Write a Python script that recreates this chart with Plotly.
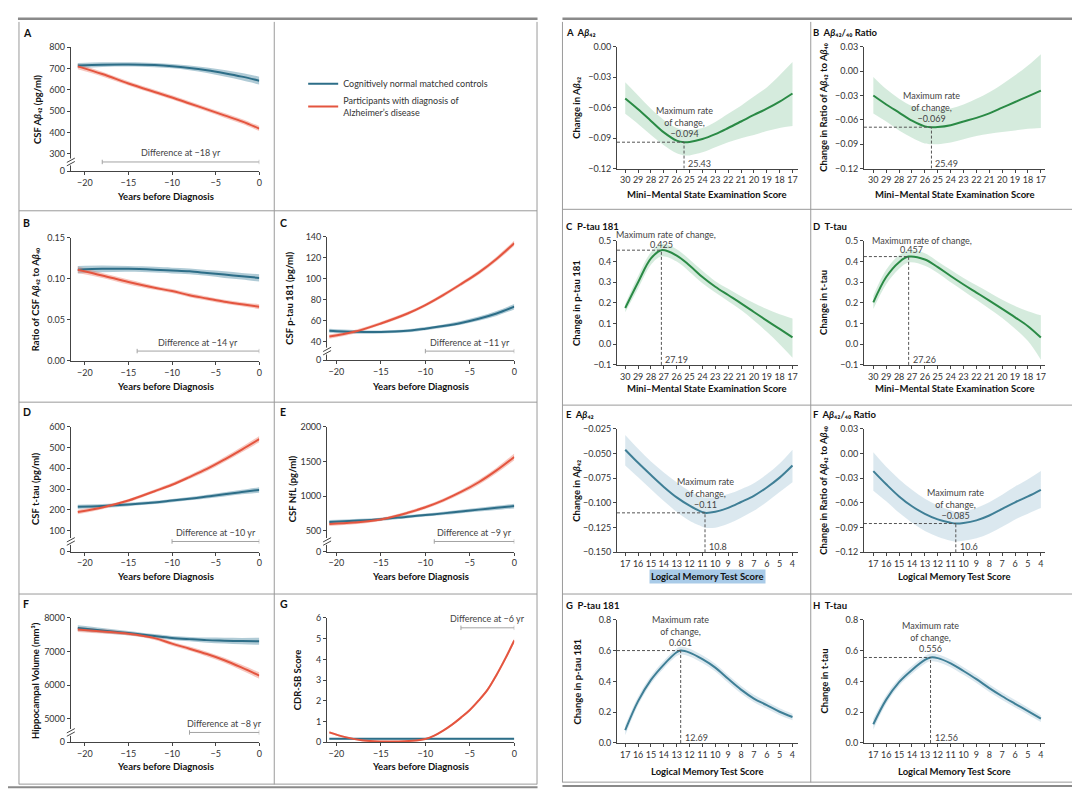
import plotly.graph_objects as go

W, H = 1080, 811
FONT = "Liberation Sans Narrow, Lato, Arial, sans-serif"
TXT = "#333333"
AXC = "#444444"
BLUE, BLUE_BAND = "#2d6e88", "rgba(80,140,165,0.45)"
RED, RED_BAND = "#e4553f", "rgba(236,115,95,0.40)"
GREEN, GREEN_BAND = "#2a8a45", "rgba(150,205,170,0.40)"
TEAL, TEAL_BAND = "#3f7f96", "rgba(175,205,220,0.45)"

# ---------------- left figure data (years before diagnosis) ----------------
years = [-20.8, -18, -15, -12, -10, -8, -6, -4, -2, 0]

abeta_ctrl = [714, 718, 719, 716, 711, 703, 692, 678, 662, 643]
abeta_ctrl_ci = [12, 11, 10, 10, 10, 11, 13, 15, 17, 18]
abeta_ad = [710, 674, 630, 590, 564, 536, 508, 480, 452, 418]
abeta_ad_ci = [13, 11, 10, 10, 10, 10, 10, 11, 11, 12]

ratio_ctrl = [0.111, 0.112, 0.112, 0.111, 0.110, 0.109, 0.107, 0.105, 0.103, 0.101]
ratio_ctrl_ci = [0.0045, 0.004, 0.0035, 0.0035, 0.0035, 0.0035, 0.0035, 0.004, 0.004, 0.0045]
ratio_ad = [0.111, 0.104, 0.096, 0.089, 0.085, 0.080, 0.076, 0.072, 0.069, 0.066]
ratio_ad_ci = [0.004, 0.003, 0.003, 0.0025, 0.0025, 0.0025, 0.0025, 0.0025, 0.0025, 0.003]

ptau_ctrl = [50.5, 49.5, 49.3, 50.5, 52.5, 55, 58, 62, 67, 73.5]
ptau_ctrl_ci = [2, 1.8, 1.5, 1.5, 1.5, 1.6, 1.8, 2, 2.3, 2.6]
ptau_ad = [45, 49.5, 57.5, 67, 75, 84.5, 95, 106, 119, 134]
ptau_ad_ci = [2, 1.8, 1.6, 1.6, 1.6, 1.7, 1.8, 2, 2.2, 2.5]

ttau_ctrl = [215, 219, 226, 236, 245, 254, 264, 275, 286, 296]
ttau_ctrl_ci = [10, 9, 8, 8, 8, 8, 9, 10, 11, 13]
ttau_ad = [190, 212, 245, 290, 321, 358, 397, 442, 490, 540]
ttau_ad_ci = [11, 9, 8, 8, 9, 10, 11, 12, 13, 15]

nfl_ctrl = [628, 645, 668, 705, 728, 752, 780, 806, 832, 858]
nfl_ctrl_ci = [28, 25, 22, 22, 22, 23, 25, 27, 30, 34]
nfl_ad = [600, 620, 665, 760, 840, 940, 1060, 1200, 1370, 1564]
nfl_ad_ci = [30, 26, 24, 24, 25, 27, 30, 35, 40, 48]

hip_ctrl = [7700, 7630, 7550, 7460, 7405, 7370, 7340, 7325, 7312, 7305]
hip_ctrl_ci = [85, 75, 65, 60, 60, 65, 75, 85, 95, 105]
hip_ad = [7660, 7600, 7530, 7400, 7235, 7085, 6925, 6740, 6520, 6284]
hip_ad_ci = [75, 65, 55, 55, 60, 65, 70, 75, 85, 95]

cdr_years = [-20.8, -19, -17, -15, -13, -11, -10, -9, -8, -7, -6, -5, -4, -3, -2, -1, 0]
cdr_ctrl = [0.17, 0.17, 0.17, 0.17, 0.17, 0.17, 0.17, 0.17, 0.17, 0.17, 0.17, 0.17, 0.17, 0.17, 0.17, 0.17, 0.17]
cdr_ctrl_ci = [0.03, 0.03, 0.03, 0.03, 0.03, 0.03, 0.03, 0.03, 0.03, 0.03, 0.03, 0.03, 0.03, 0.03, 0.03, 0.03, 0.03]
cdr_ad = [0.48, 0.25, 0.09, 0.04, 0.04, 0.09, 0.16, 0.32, 0.56, 0.85, 1.19, 1.56, 2.02, 2.54, 3.25, 4.05, 4.92]
cdr_ad_ci = [0.05, 0.04, 0.03, 0.03, 0.03, 0.03, 0.03, 0.04, 0.04, 0.05, 0.05, 0.06, 0.07, 0.08, 0.09, 0.10, 0.12]

diff_labels = [-18, -14, -11, -10, -9, -8, -6]
diff_bar_start = [-18, -14, -10, -10, -9, -8, -6]

# ---------------- right figure data ----------------
mmse_ticks = [30, 29, 28, 27, 26, 25, 24, 23, 22, 21, 20, 19, 18, 17]
lmt_ticks = [17, 16, 15, 14, 13, 12, 11, 10, 9, 8, 7, 6, 5, 4]

ra_x = [30, 29, 28, 27, 26, 25.43, 25, 24, 23, 22, 21, 20, 19, 18, 17]
ra_y = [-0.051, -0.0616, -0.073, -0.0843, -0.0924, -0.094, -0.0937, -0.0908, -0.086, -0.080, -0.0736, -0.0671, -0.061, -0.054, -0.046]
ra_hi = [-0.035, -0.048, -0.061, -0.072, -0.080, -0.082, -0.082, -0.080, -0.074, -0.066, -0.058, -0.049, -0.040, -0.028, -0.015]
ra_lo = [-0.066, -0.076, -0.087, -0.097, -0.105, -0.107, -0.107, -0.104, -0.099, -0.094, -0.090, -0.087, -0.083, -0.080, -0.078]

rb_x = [30, 29, 28, 27, 26, 25.49, 25, 24, 23, 22, 21, 20, 19, 18, 17]
rb_y = [-0.030, -0.041, -0.051, -0.061, -0.068, -0.069, -0.0688, -0.0665, -0.062, -0.0575, -0.052, -0.045, -0.038, -0.031, -0.024]
rb_hi = [-0.007, -0.022, -0.034, -0.043, -0.048, -0.049, -0.048, -0.046, -0.041, -0.034, -0.026, -0.016, -0.005, 0.007, 0.021]
rb_lo = [-0.052, -0.062, -0.073, -0.082, -0.089, -0.090, -0.090, -0.088, -0.084, -0.080, -0.077, -0.075, -0.073, -0.071, -0.070]

rc_x = [30, 29, 28, 27.19, 26, 25, 24, 23, 22, 21, 20, 19, 18, 17]
rc_y = [0.175, 0.30, 0.415, 0.455, 0.429, 0.381, 0.325, 0.278, 0.238, 0.198, 0.156, 0.114, 0.074, 0.033]
rc_hi = [0.195, 0.33, 0.445, 0.485, 0.46, 0.41, 0.355, 0.305, 0.268, 0.232, 0.20, 0.17, 0.145, 0.125]
rc_lo = [0.155, 0.27, 0.385, 0.425, 0.40, 0.35, 0.295, 0.25, 0.208, 0.165, 0.115, 0.06, 0.0, -0.065]

rd_x = [30, 29, 28, 27.26, 26, 25, 24, 23, 22, 21, 20, 19, 18, 17]
rd_y = [0.202, 0.325, 0.397, 0.424, 0.41, 0.373, 0.33, 0.289, 0.25, 0.211, 0.171, 0.13, 0.087, 0.032]
rd_hi = [0.235, 0.36, 0.43, 0.455, 0.44, 0.40, 0.36, 0.32, 0.285, 0.25, 0.215, 0.185, 0.16, 0.14]
rd_lo = [0.17, 0.29, 0.365, 0.395, 0.38, 0.345, 0.30, 0.258, 0.215, 0.172, 0.127, 0.075, 0.015, -0.075]

re_x = [17, 16, 15, 14, 13, 12, 11, 10.8, 10, 9, 8, 7, 6, 5, 4]
re_y = [-0.046, -0.0593, -0.0717, -0.0837, -0.0943, -0.1027, -0.1093, -0.110, -0.109, -0.105, -0.099, -0.0927, -0.0843, -0.0743, -0.062]
re_hi = [-0.031, -0.045, -0.058, -0.069, -0.079, -0.088, -0.094, -0.0945, -0.094, -0.091, -0.086, -0.080, -0.071, -0.060, -0.046]
re_lo = [-0.062, -0.074, -0.086, -0.098, -0.109, -0.118, -0.124, -0.125, -0.125, -0.121, -0.115, -0.108, -0.099, -0.089, -0.079]

rf_x = [17, 16, 15, 14, 13, 12, 11, 10.6, 10, 9, 8, 7, 6, 5, 4]
rf_y = [-0.0212, -0.0372, -0.052, -0.064, -0.0732, -0.080, -0.084, -0.085, -0.0844, -0.0812, -0.0752, -0.0672, -0.0592, -0.052, -0.044]
rf_hi = [0.0016, -0.016, -0.031, -0.044, -0.055, -0.063, -0.069, -0.071, -0.070, -0.066, -0.059, -0.050, -0.040, -0.031, -0.021]
rf_lo = [-0.045, -0.058, -0.072, -0.084, -0.094, -0.101, -0.106, -0.107, -0.106, -0.103, -0.097, -0.089, -0.080, -0.073, -0.066]

rg_x = [17, 16, 15, 14, 13, 12.69, 12, 11, 10, 9, 8, 7, 6, 5, 4]
rg_y = [0.083, 0.272, 0.41, 0.51, 0.59, 0.601, 0.588, 0.545, 0.49, 0.417, 0.347, 0.289, 0.246, 0.203, 0.169]
rg_hi = [0.115, 0.30, 0.435, 0.535, 0.615, 0.626, 0.613, 0.57, 0.515, 0.442, 0.372, 0.313, 0.27, 0.226, 0.19]
rg_lo = [0.05, 0.245, 0.385, 0.485, 0.565, 0.576, 0.563, 0.52, 0.465, 0.392, 0.322, 0.265, 0.222, 0.18, 0.148]

rh_x = [17, 16, 15, 14, 13, 12.56, 12, 11, 10, 9, 8, 7, 6, 5, 4]
rh_y = [0.122, 0.282, 0.396, 0.475, 0.540, 0.556, 0.552, 0.518, 0.468, 0.415, 0.357, 0.304, 0.255, 0.207, 0.158]
rh_hi = [0.157, 0.31, 0.421, 0.50, 0.565, 0.581, 0.577, 0.543, 0.493, 0.44, 0.382, 0.328, 0.279, 0.23, 0.18]
rh_lo = [0.087, 0.255, 0.371, 0.45, 0.515, 0.531, 0.527, 0.493, 0.443, 0.39, 0.332, 0.28, 0.231, 0.184, 0.136]

peak_labels = ["\u22120.094", "\u22120.069", "0.425", "0.457", "\u22120.11", "\u22120.085", "0.601", "0.556"]

# ---------------- helpers ----------------
fig = go.Figure()
L = dict(width=W, height=H, margin=dict(l=0, r=0, t=0, b=0), paper_bgcolor="white",
         plot_bgcolor="white", font=dict(family=FONT, size=9, color=TXT), showlegend=True)
shapes, annos = [], []
counter = [0]


def PX(px):
    return px / W


def PY(py):
    return 1 - py / H


def axes(box, xr, yr, xtv, ytv, ytt=None, yfmt=None):
    counter[0] += 1
    k = counter[0]
    s = "" if k == 1 else str(k)
    x0, x1, y0, y1 = box
    common = dict(showline=True, linecolor=AXC, linewidth=1, ticks="outside", ticklen=3, tickwidth=1,
                  tickcolor=AXC, showgrid=False, zeroline=False, fixedrange=True,
                  tickfont=dict(size=9, color=TXT, family=FONT))
    L["xaxis" + s] = dict(domain=[PX(x0), PX(x1)], range=xr, anchor="y" + s, tickvals=xtv, **common)
    ya = dict(domain=[PY(y1), PY(y0)], range=yr, anchor="x" + s, tickvals=ytv, **common)
    if ytt is not None:
        ya["ticktext"] = ytt
    if yfmt:
        ya["tickformat"] = yfmt
    L["yaxis" + s] = ya
    return "x" + s, "y" + s


def text(px, py, s, size=9, color=TXT, xanchor="center", yanchor="middle", angle=0, bg=None, bold=False):
    f = dict(size=size, color=color, family=FONT)
    if bold:
        f["weight"] = "bold"
    a = dict(x=PX(px), y=PY(py), xref="paper", yref="paper", text=s, showarrow=False,
             xanchor=xanchor, yanchor=yanchor, textangle=angle, font=f)
    if bg:
        a["bgcolor"] = bg
    annos.append(a)


def band(xa, ya, xs, lo, hi, color):
    fig.add_trace(go.Scatter(x=xs, y=lo, mode="lines", line=dict(width=0, shape="spline"),
                             xaxis=xa, yaxis=ya, showlegend=False, hoverinfo="skip"))
    fig.add_trace(go.Scatter(x=xs, y=hi, mode="lines", line=dict(width=0, shape="spline"),
                             fill="tonexty", fillcolor=color, xaxis=xa, yaxis=ya,
                             showlegend=False, hoverinfo="skip"))


def curve(xa, ya, xs, ys, color, name=None, legend=False, width=2):
    fig.add_trace(go.Scatter(x=xs, y=ys, mode="lines", line=dict(color=color, width=width, shape="spline"),
                             xaxis=xa, yaxis=ya, name=name, showlegend=legend, hoverinfo="skip"))


def hline(x0, x1, y, color, width=1):
    shapes.append(dict(type="line", xref="paper", yref="paper", x0=PX(x0), x1=PX(x1), y0=PY(y), y1=PY(y),
                       line=dict(color=color, width=width)))


def vline(x, y0, y1, color, width=1):
    shapes.append(dict(type="line", xref="paper", yref="paper", x0=PX(x), x1=PX(x), y0=PY(y0), y1=PY(y1),
                       line=dict(color=color, width=width)))


def brk(px, py):
    vline(px, py + 3.5, py - 3.5, "white", 3)
    for d in (-1.7, 1.7):
        shapes.append(dict(type="line", xref="paper", yref="paper", x0=PX(px - 4), y0=PY(py + d + 2.2),
                           x1=PX(px + 4), y1=PY(py + d - 2.2), line=dict(color=AXC, width=1)))


LEFT_X = [-20, -15, -10, -5, 0]


def left_panel(letter, box, xr, yr, ytv, ytt, ytitle, ytitle_px, xtitle_py, xs, ctrl, ctrl_ci, ad, ad_ci,
               diff, start, bar_fr, txt_fr, brk_py=None, legend=False):
    xa, ya = axes(box, xr, yr, LEFT_X, ytv, ytt)
    band(xa, ya, xs, [v - c for v, c in zip(ctrl, ctrl_ci)], [v + c for v, c in zip(ctrl, ctrl_ci)], BLUE_BAND)
    band(xa, ya, xs, [v - c for v, c in zip(ad, ad_ci)], [v + c for v, c in zip(ad, ad_ci)], RED_BAND)
    curve(xa, ya, xs, ctrl, BLUE, "Cognitively normal matched controls", legend)
    curve(xa, ya, xs, ad, RED, "Participants with diagnosis of<br>Alzheimer\u2019s disease", legend)
    gray = "#a3a3a3"
    shapes.append(dict(type="line", xref=xa, yref=ya + " domain", x0=start, x1=0, y0=bar_fr, y1=bar_fr,
                       line=dict(color=gray, width=1)))
    for xv in (start, 0):
        shapes.append(dict(type="line", xref=xa, yref=ya + " domain", x0=xv, x1=xv, y0=bar_fr - 0.018,
                           y1=bar_fr + 0.018, line=dict(color=gray, width=1)))
    annos.append(dict(x=start / 2, y=txt_fr, xref=xa, yref=ya + " domain", showarrow=False,
                      text="Difference at \u2212%d yr" % abs(diff), xanchor="center", yanchor="middle",
                      font=dict(size=9, color="#444", family=FONT)))
    x0, x1, y0, y1 = box
    text(ytitle_px, (y0 + y1) / 2, ytitle, size=9.5, color="#111", angle=-90, bold=True)
    text((x0 + x1) / 2, xtitle_py, "Years before Diagnosis", size=9.5, color="#111", bold=True)
    text(x0 - 50 if x0 < 200 else x0 - 49, y0 - 14.5, letter, size=10.5, color="#111",
         xanchor="left", bold=True)
    if brk_py is not None:
        brk(x0, brk_py)


def right_panel(letter, title, box, xr, yr, xtv, ytv, yfmt, ytitle, xtitle, xtitle_py, xs, ys, lo, hi,
                col, bcol, mode, lab, ann_style, xtitle_bg=None):
    xa, ya = axes(box, xr, yr, xtv, ytv, None, yfmt)
    band(xa, ya, xs, lo, hi, bcol)
    curve(xa, ya, xs, ys, col)
    i = ys.index(min(ys)) if mode == "min" else ys.index(max(ys))
    pxv, pyv = xs[i], ys[i]
    dash = dict(color="#555", width=1, dash="3px,2px")
    shapes.append(dict(type="line", xref=xa, yref=ya, x0=xr[0], x1=pxv, y0=pyv, y1=pyv, line=dash))
    shapes.append(dict(type="line", xref=xa, yref=ya, x0=pxv, x1=pxv, y0=yr[0], y1=pyv, line=dash))
    annos.append(dict(x=pxv, y=0.045, xref=xa, yref=ya + " domain", text=("%g" % pxv), showarrow=False,
                      xanchor="left", yanchor="middle", xshift=2, font=dict(size=9, color="#444", family=FONT)))
    if ann_style == "stack":
        annos.append(dict(x=pxv, y=pyv, xref=xa, yref=ya, text="Maximum rate<br>of change,<br>" + lab,
                          showarrow=False, xanchor="center", yanchor="bottom", yshift=1,
                          font=dict(size=9, color="#444", family=FONT)))
    else:
        (l1x, l1y, l2x, l2y) = ann_style
        text(l1x, l1y, "Maximum rate of change,", color="#444", xanchor="left")
        text(l2x, l2y, lab, color="#444")
    x0, x1, y0, y1 = box
    text(x0 - 40, (y0 + y1) / 2, ytitle, size=9.5, color="#111", angle=-90, bold=True)
    text((x0 + x1) / 2, xtitle_py, xtitle, size=9.5, color="#111", bg=xtitle_bg, bold=True)
    text(x0 - 53, y0 - 14.5, letter + "  " + title, size=9.5, color="#111", xanchor="left", bold=True)


# ---------------- frames ----------------
FR = "#9a9a9a"
DK = "#8a8a8a"
hline(10, 531, 4.8, DK, 2.5)
hline(556, 1072, 4.8, DK, 2.5)
vline(11, 8, 781, FR)
vline(530.5, 8, 781, FR)
vline(267, 8, 781, FR)
for yy in (199.5, 393.5, 588):
    hline(11, 530.5, yy, FR)
hline(11, 530.5, 780.7, FR)
hline(0, 531, 783.8, DK, 2)
vline(556, 8, 779, FR)
vline(1071.5, 8, 779, FR)
vline(805, 8, 779, FR)
for yy in (198, 396.5, 588):
    hline(556, 1071.5, yy, FR)
hline(556, 1071.5, 778.7, FR)
hline(556, 1080, 782.5, DK, 2)

# ---------------- text pieces (unicode sub/superscripts) ----------------
BETA = "<i>\u03b2</i>"
S42 = "\u2084\u2082"
S40 = "\u2084\u2080"

# ---------------- left panels ----------------
C1, C2 = (63, 252), (320, 507.7)
left_panel("A", (C1[0], C1[1], 33.7, 159.3), [-21.6, 0], [218, 800], [218, 300, 400, 500, 600, 700, 800],
           ["0", "300", "400", "500", "600", "700", "800"], "CSF A" + BETA + S42 + " (pg/ml)", 29, 185,
           years, abeta_ctrl, abeta_ctrl_ci, abeta_ad, abeta_ad_ci, diff_labels[0], diff_bar_start[0],
           0.074, 0.154, 150, legend=True)
left_panel("B", (C1[0], C1[1], 226.7, 351.7), [-21.6, 0], [0, 0.15], [0, 0.05, 0.10, 0.15],
           ["0.00", "0.05", "0.10", "0.15"], "Ratio of CSF A" + BETA + S42 + " to A" + BETA + S40,
           27, 377.7, years, ratio_ctrl, ratio_ctrl_ci, ratio_ad, ratio_ad_ci, diff_labels[1], diff_bar_start[1],
           0.08, 0.152)
left_panel("C", (C2[0], C2[1], 226, 351), [-21.05, 0], [22.4, 140], [22.4, 40, 60, 80, 100, 120, 140],
           ["0", "40", "60", "80", "100", "120", "140"], "CSF p-tau 181 (pg/ml)", 282, 377.7,
           years, ptau_ctrl, ptau_ctrl_ci, ptau_ad, ptau_ad_ci, diff_labels[2], diff_bar_start[2],
           0.074, 0.146, 341.7)
left_panel("D", (C1[0], C1[1], 418.3, 545), [-21.6, 0], [0, 600], [0, 100, 200, 300, 400, 500, 600],
           ["0", "100", "200", "300", "400", "500", "600"], "CSF t-tau (pg/ml)", 27, 570,
           years, ttau_ctrl, ttau_ctrl_ci, ttau_ad, ttau_ad_ci, diff_labels[3], diff_bar_start[3],
           0.081, 0.152, 534.7)
left_panel("E", (C2[0], C2[1], 418.3, 545), [-21.05, 0], [202, 2000], [202, 500, 1000, 1500, 2000],
           ["0", "500", "1000", "1500", "2000"], "CSF NfL (pg/ml)", 285, 570,
           years, nfl_ctrl, nfl_ctrl_ci, nfl_ad, nfl_ad_ci, diff_labels[4], diff_bar_start[4],
           0.081, 0.152, 534.7)
left_panel("F", (C1[0], C1[1], 612.3, 738.3), [-21.6, 0], [4294, 8000], [4294, 5000, 6000, 7000, 8000],
           ["0", "5000", "6000", "7000", "8000"], "Hippocampal Volume (mm\u00b3)", 27, 763.3,
           years, hip_ctrl, hip_ctrl_ci, hip_ad, hip_ad_ci, diff_labels[5], diff_bar_start[5],
           0.079, 0.153, 728.3)
left_panel("G", (C2[0], C2[1], 612.3, 738.3), [-21.05, 0], [0, 6], [0, 1, 2, 3, 4, 5, 6],
           ["0", "1", "2", "3", "4", "5", "6"], "CDR-SB Score", 290, 763.3,
           cdr_years, cdr_ctrl, cdr_ctrl_ci, cdr_ad, cdr_ad_ci, diff_labels[6], diff_bar_start[6],
           0.921, 0.992)

# ---------------- right panels ----------------
R1, R2 = (610.7, 791.7), (858.3, 1040)
XR1, XR2 = [30.64, 16.61], [30.73, 16.67]
XE1, XE2 = [17.64, 3.61], [17.73, 3.67]
AB = "A" + BETA + S42
RAT = "A" + BETA + S42 + "/" + S40 + " Ratio"
MM = "Mini\u2013Mental State Examination Score"
LM = "Logical Memory Test Score"
r12 = [-0.12, -0.09, -0.06, -0.03, 0.0]
r13 = [-0.12, -0.09, -0.06, -0.03, 0.0, 0.03]
rat_title = "Change in Ratio of A" + BETA + S42 + " to A" + BETA + S40

right_panel("A", AB, (R1[0], R1[1], 33.3, 156.7), XR1, [-0.12, 0.0], mmse_ticks, r12, ".2f",
            "Change in " + AB, MM, 182.7, ra_x, ra_y, ra_lo, ra_hi, GREEN, GREEN_BAND, "min",
            peak_labels[0], "stack")
right_panel("B", RAT, (R2[0], R2[1], 33.3, 156.7), XR2, [-0.12, 0.03], mmse_ticks, r13, ".2f",
            rat_title, MM, 182.7, rb_x, rb_y, rb_lo, rb_hi, GREEN, GREEN_BAND, "min",
            peak_labels[1], "stack")
right_panel("C", "P-tau 181", (R1[0], R1[1], 230, 355.7), XR1, [-0.1, 0.5], mmse_ticks,
            [-0.1, 0.0, 0.1, 0.2, 0.3, 0.4, 0.5], ".1f", "Change in p-tau 181", MM, 380,
            rc_x, rc_y, rc_lo, rc_hi, GREEN, GREEN_BAND, "max", peak_labels[2], (608, 223.3, 655, 233.3))
right_panel("D", "T-tau", (R2[0], R2[1], 230, 355.7), XR2, [-0.1, 0.5], mmse_ticks,
            [-0.1, 0.0, 0.1, 0.2, 0.3, 0.4, 0.5], ".1f", "Change in t-tau", MM, 380,
            rd_x, rd_y, rd_lo, rd_hi, GREEN, GREEN_BAND, "max", peak_labels[3], (864, 229.3, 906, 238.3))
right_panel("E", AB, (R1[0], R1[1], 420.7, 545.7), XE1, [-0.15, -0.025], lmt_ticks,
            [-0.15, -0.125, -0.1, -0.075, -0.05, -0.025], ".3f", "Change in " + AB, LM, 570.7,
            re_x, re_y, re_lo, re_hi, TEAL, TEAL_BAND, "min", peak_labels[4], "stack", xtitle_bg="#a9cbe8")
right_panel("F", RAT, (R2[0], R2[1], 420.7, 545.7), XE2, [-0.12, 0.03], lmt_ticks, r13, ".2f",
            rat_title, LM, 570.7, rf_x, rf_y, rf_lo, rf_hi, TEAL, TEAL_BAND, "min", peak_labels[5], "stack")
right_panel("G", "P-tau 181", (R1[0], R1[1], 614.3, 739), XE1, [0, 0.8], lmt_ticks, [0, 0.2, 0.4, 0.6, 0.8],
            ".1f", "Change in p-tau 181", LM, 768, rg_x, rg_y, rg_lo, rg_hi, TEAL, TEAL_BAND, "max",
            peak_labels[6], "stack")
right_panel("H", "T-tau", (R2[0], R2[1], 614.3, 739), XE2, [0, 0.8], lmt_ticks, [0, 0.2, 0.4, 0.6, 0.8],
            ".1f", "Change in t-tau", LM, 768, rh_x, rh_y, rh_lo, rh_hi, TEAL, TEAL_BAND, "max",
            peak_labels[7], "stack")

L["legend"] = dict(x=PX(296), y=PY(56), xanchor="left", yanchor="top", bgcolor="rgba(0,0,0,0)",
                   font=dict(size=9, color=TXT, family=FONT), itemwidth=30, tracegroupgap=0,
                   traceorder="normal")
L["shapes"] = shapes
L["annotations"] = annos
fig.update_layout(**L)
fig.write_html("out.html")
